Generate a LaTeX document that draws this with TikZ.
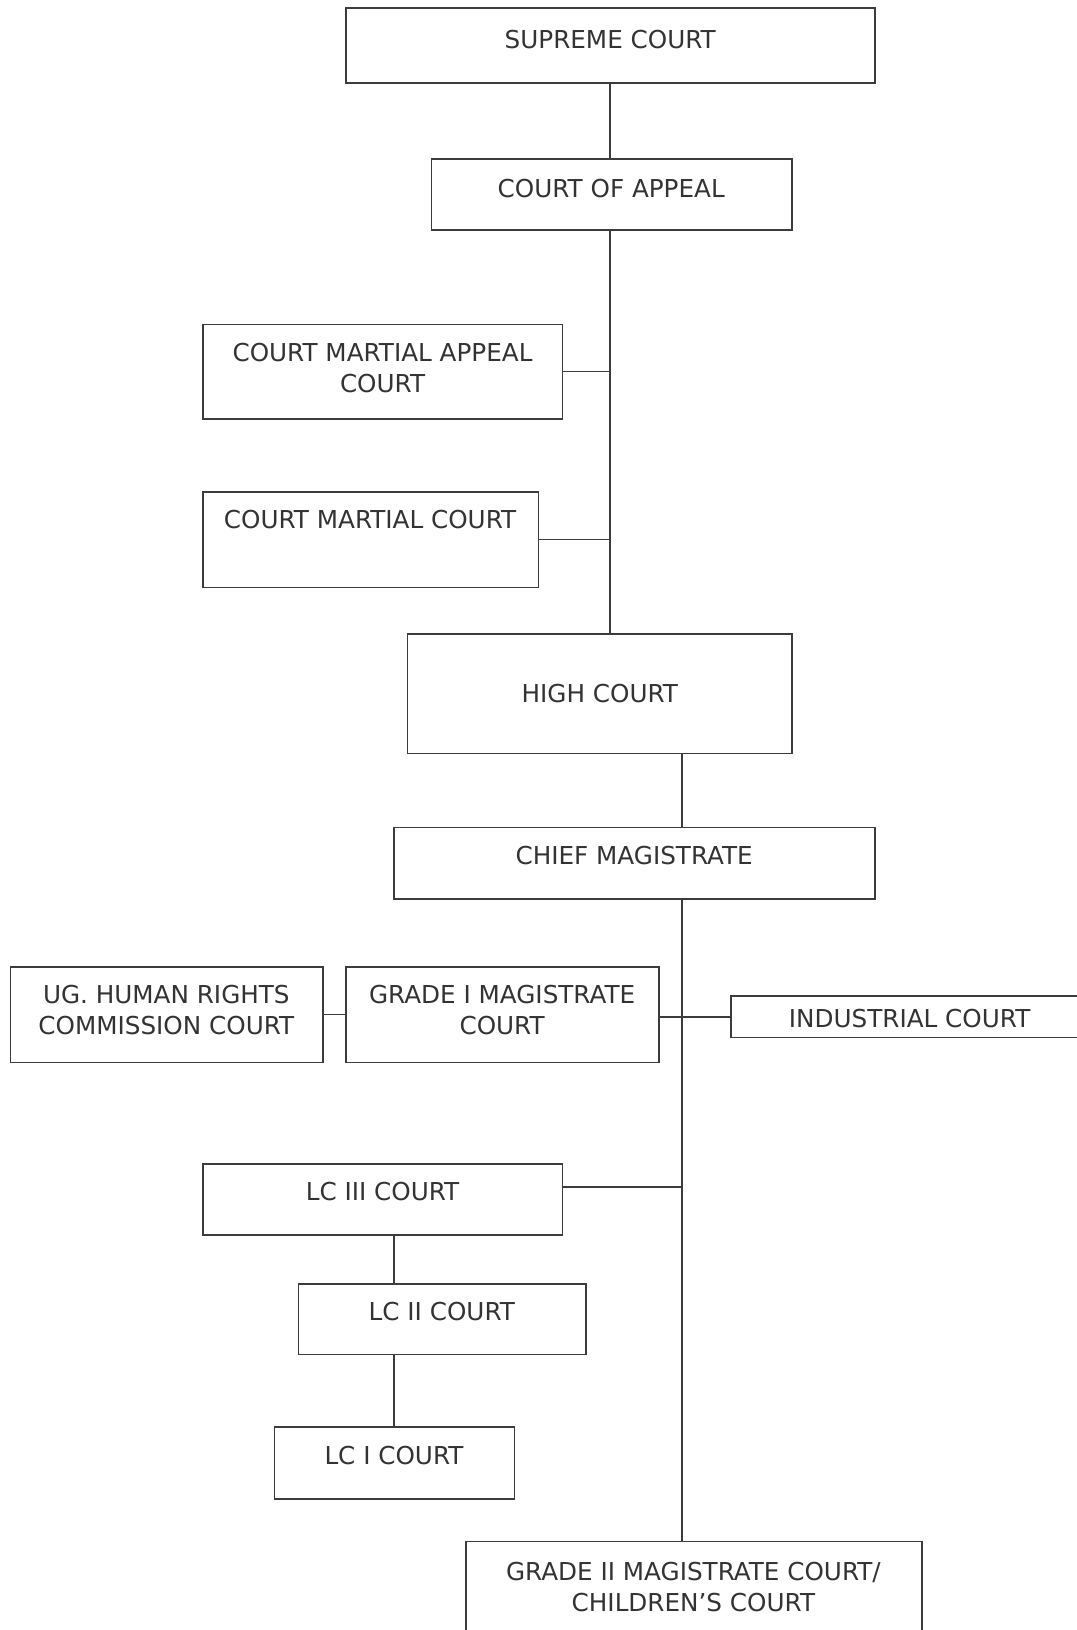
\documentclass[tikz,border=0pt]{standalone}
\usepackage{fontspec}
\setmainfont{DejaVu Sans}
\usetikzlibrary{fit}
\definecolor{boxgray}{HTML}{3C3C3C}
\definecolor{textgray}{HTML}{333333}
\tikzset{
  court/.style={draw=boxgray, line width=0.9pt, inner sep=0pt},
  courttext/.style={text=textgray, align=center, inner sep=0pt, font=\fontsize{13.5}{17}\selectfont},
  link/.style={draw=boxgray, line width=0.9pt}
}
\begin{document}
\begin{tikzpicture}[x=0.02cm,y=-0.02cm]
\useasboundingbox (0,0) rectangle (1036,1568);
\fill[white] (0,0) rectangle (1036,1568);

% boxes
\node[court, fit={(333,8) (842,80)}] (sc) {};
\node[court, fit={(415,153) (762,221)}] (ca) {};
\node[court, fit={(195,312) (541,403)}] (cmac) {};
\node[court, fit={(195,473) (518,565)}] (cmc) {};
\node[court, fit={(392,610) (762,725)}] (hc) {};
\node[court, fit={(379,796) (842,865)}] (cm) {};
\node[court, fit={(10,930) (311,1022)}] (ug) {};
\node[court, fit={(333,930) (634,1022)}] (g1) {};
\node[court, fit={(703,958) (1050,998)}] (ind) {};
\node[court, fit={(195,1120) (541,1188)}] (lc3) {};
\node[court, fit={(287,1235) (564,1303)}] (lc2) {};
\node[court, fit={(264,1373) (495,1442)}] (lc1) {};
\node[court, fit={(448,1483) (887,1590)}] (g2) {};

% texts
\node[courttext] (sct) at (587,38) {SUPREME COURT};
\node[courttext] (cat) at (588,181) {COURT OF APPEAL};
\node[courttext] (cmact) at (368,354) {COURT MARTIAL APPEAL\\COURT};
\node[courttext] (cmct) at (356,500) {COURT MARTIAL COURT};
\node[courttext] (hct) at (577,667) {HIGH COURT};
\node[courttext] (cmt) at (610,823) {CHIEF MAGISTRATE};
\node[courttext] (ugt) at (160,972) {UG. HUMAN RIGHTS\\COMMISSION COURT};
\node[courttext] (g1t) at (483,972) {GRADE I MAGISTRATE\\COURT};
\node[courttext] (indt) at (875,980) {INDUSTRIAL COURT};
\node[courttext] (lc3t) at (368,1146) {LC III COURT};
\node[courttext] (lc2t) at (425,1262) {LC II COURT};
\node[courttext] (lc1t) at (379,1400) {LC I COURT};
\node[courttext] (g2t) at (667,1527) {GRADE II MAGISTRATE COURT/\\CHILDREN’S COURT};

% connectors
\coordinate (upper) at (587,0);
\coordinate (trunk) at (656,0);
\coordinate (lcaxis) at (379,0);
\draw[link] (sc.south -| upper) -- (ca.north -| upper);
\draw[link] (ca.south -| upper) -- (hc.north -| upper);
\draw[link] (cmac.east) -- (cmac.east -| upper);
\draw[link] (cmc.east) -- (cmc.east -| upper);
\draw[link] (hc.south -| trunk) -- (cm.north -| trunk);
\draw[link] (cm.south -| trunk) -- (g2.north -| trunk);
\draw[link] (ug.east) -- (g1.west);
\draw[link] (ind.west -| g1.east) -- (ind.west);
\draw[link] ([yshift=0.24cm]lc3.east) -- ([yshift=0.24cm]lc3.east -| trunk);
\draw[link] (lc3.south -| lcaxis) -- (lc2.north -| lcaxis);
\draw[link] (lc2.south -| lcaxis) -- (lc1.north -| lcaxis);

\end{tikzpicture}
\end{document}
